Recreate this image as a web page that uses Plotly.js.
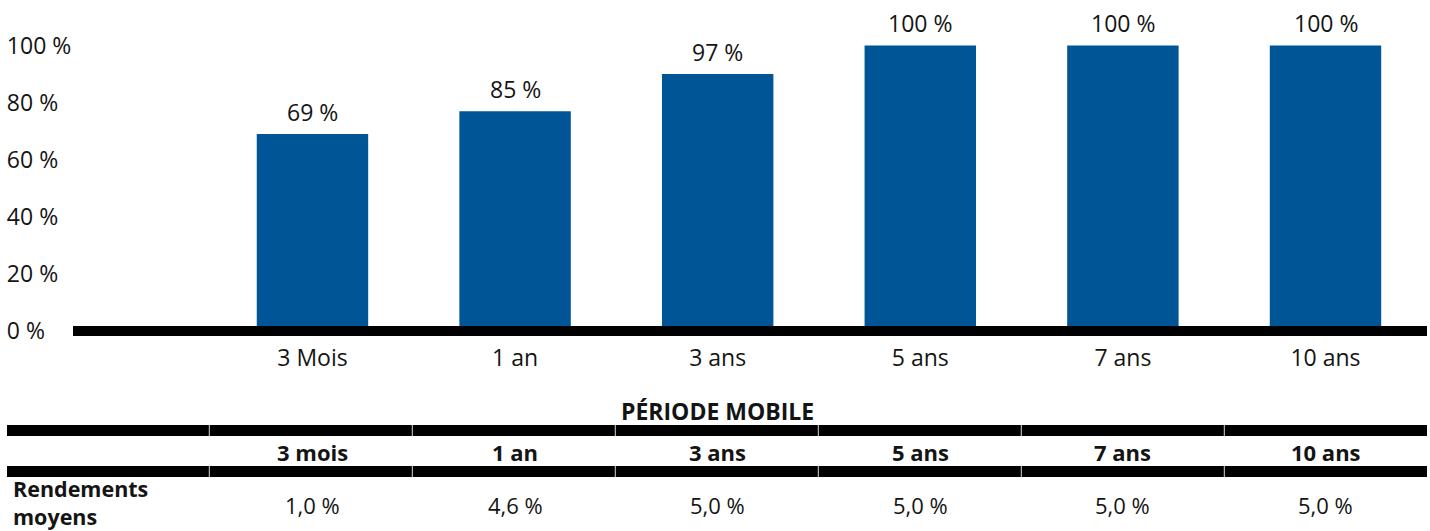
<!DOCTYPE html>
<html>
<head>
<meta charset="utf-8">
<script src="https://cdn.plot.ly/plotly-3.0.1.min.js"></script>
<style>
  html, body { margin: 0; padding: 0; background: #ffffff; }
  #chart { width: 1430px; height: 531px; }
</style>
</head>
<body>
<div id="chart"></div>
<script>
// ---------- DATA ----------
const categories = ["3 Mois", "1 an", "3 ans", "5 ans", "7 ans", "10 ans"];
const barValues = [69, 77, 90, 100, 100, 100];
const barLabels = ["69 %", "85 %", "97 %", "100 %", "100 %", "100 %"];
const yTickVals = [0, 20, 40, 60, 80, 100];
const yTickText = ["0 %", "20 %", "40 %", "60 %", "80 %", "100 %"];
const tableTitle = "PÉRIODE MOBILE";
const tablePeriods = ["3 mois", "1 an", "3 ans", "5 ans", "7 ans", "10 ans"];
const rowLabel = "Rendements<br>moyens";
const avgReturns = ["1,0 %", "4,6 %", "5,0 %", "5,0 %", "5,0 %", "5,0 %"];

// ---------- LAYOUT HELPERS ----------
const W = 1430, H = 531;
const px = v => v / W;          // pixel x -> paper
const py = v => 1 - v / H;      // pixel y -> paper
const FONT = "Open Sans, Noto Sans, sans-serif";
const TXT = "#141414";
const BLUE = "#005596";

const trace = {
  type: "bar",
  x: categories,
  y: barValues,
  width: 0.55,
  marker: { color: BLUE, line: { width: 0 } },
  hoverinfo: "skip"
};

const annotations = [];
// bar value labels
categories.forEach((c, i) => {
  annotations.push({
    xref: "x", yref: "y", x: c, y: barValues[i],
    text: barLabels[i], showarrow: false,
    yanchor: "middle", xanchor: "center", yshift: 22,
    font: { family: FONT, size: 23, color: TXT }
  });
});
// table title
annotations.push({
  xref: "x", yref: "paper", x: 2, y: py(411),
  text: "<b>" + tableTitle + "</b>", showarrow: false,
  xanchor: "center", yanchor: "middle",
  font: { family: FONT, size: 23, color: TXT }
});
// table header & values
tablePeriods.forEach((p, i) => {
  annotations.push({
    xref: "x", yref: "paper", x: i, y: py(451.5),
    text: "<b>" + p + "</b>", showarrow: false,
    xanchor: "center", yanchor: "middle",
    font: { family: FONT, size: 22, color: TXT }
  });
  annotations.push({
    xref: "x", yref: "paper", x: i, y: py(505),
    text: avgReturns[i], showarrow: false,
    xanchor: "center", yanchor: "middle",
    font: { family: FONT, size: 22, color: TXT }
  });
});
// row label
annotations.push({
  xref: "paper", yref: "paper", x: px(12), y: py(502),
  text: "<b>" + rowLabel + "</b>", showarrow: false,
  xanchor: "left", yanchor: "middle", align: "left", borderpad: 0,
  font: { family: FONT, size: 21.5, color: TXT }
});

const shapes = [];
// baseline at zero
shapes.push({
  type: "line", xref: "paper", yref: "y",
  x0: px(73), x1: px(1427), y0: 0, y1: 0,
  line: { color: "#000000", width: 10 }, layer: "above"
});
// table bands
[[425, 436], [466, 477]].forEach(b => {
  shapes.push({
    type: "rect", xref: "paper", yref: "paper",
    x0: px(7), x1: px(1427), y0: py(b[1]), y1: py(b[0]),
    fillcolor: "#000000", line: { width: 0 }
  });
  for (let k = 0; k < 6; k++) {
    const xd = 209.3 + k * 203;
    shapes.push({
      type: "line", xref: "paper", yref: "paper",
      x0: px(xd), x1: px(xd), y0: py(b[1]), y1: py(b[0]),
      line: { color: "#d8d8d8", width: 1 }
    });
  }
});

const layout = {
  width: W, height: H,
  margin: { l: 0, r: 0, t: 0, b: 0, pad: 0 },
  paper_bgcolor: "#ffffff", plot_bgcolor: "#ffffff",
  showlegend: false,
  bargap: 0.45,
  xaxis: {
    type: "category",
    domain: [px(73), px(1427)],
    range: [-1.182, 5.501],
    showline: false, showgrid: false, zeroline: false,
    ticks: "", fixedrange: true,
    tickfont: { family: FONT, size: 23, color: TXT },
    ticklabelstandoff: 6
  },
  yaxis: {
    domain: [py(336), py(31.2)],
    range: [-1.751, 105],
    anchor: "free", position: 0.002,
    showline: false, showgrid: false, zeroline: false,
    ticks: "", tickvals: yTickVals, ticktext: yTickText,
    ticklabelposition: "inside", ticklabeloverflow: "allow",
    tickfont: { family: FONT, size: 23, color: TXT },
    fixedrange: true
  },
  annotations: annotations,
  shapes: shapes
};

Plotly.newPlot("chart", [trace], layout, { displayModeBar: false, staticPlot: true });
</script>
</body>
</html>
